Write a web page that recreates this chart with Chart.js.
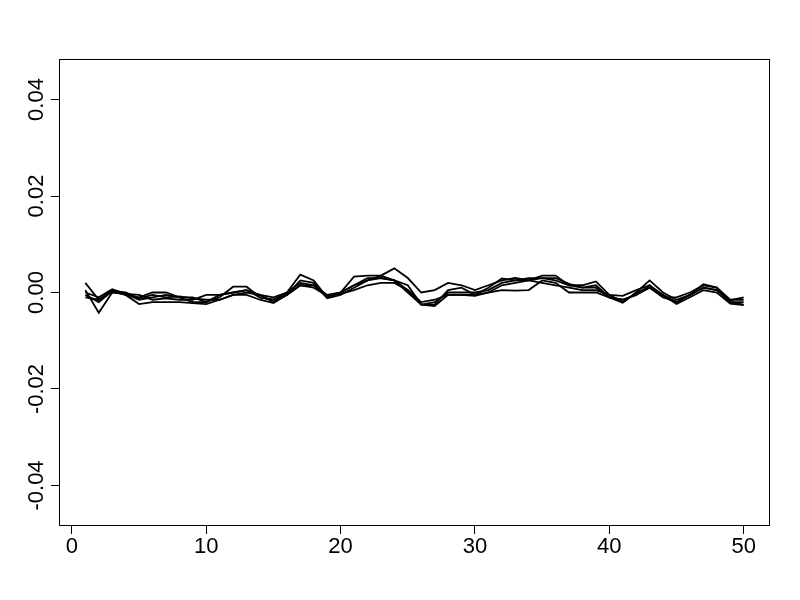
<!DOCTYPE html>
<html>
<head>
<meta charset="utf-8">
<script src="https://cdn.jsdelivr.net/npm/chart.js@4"></script>
<style>
  html, body { margin: 0; padding: 0; background: #fff; }
</style>
</head>
<body>
<canvas id="myChart" width="800" height="600"></canvas>
<script>
// Índices del eje x y cinco series
const xValues = [1, 2, 3, 4, 5, 6, 7, 8, 9, 10, 11, 12, 13, 14, 15, 16, 17, 18, 19, 20,
  21, 22, 23, 24, 25, 26, 27, 28, 29, 30, 31, 32, 33, 34, 35, 36, 37, 38, 39, 40,
  41, 42, 43, 44, 45, 46, 47, 48, 49, 50];

const serie1 = [0.0020, -0.0015, 0.0005, -0.0005, -0.0010, 0.0000, 0.0000, -0.0010, -0.0010, -0.0020,
  -0.0010, 0.0012, 0.0012, -0.0010, -0.0015, 0.0000, 0.0037, 0.0025, -0.0010, 0.0000,
  0.0033, 0.0035, 0.0035, 0.0050, 0.0030, 0.0000, 0.0005, 0.0020, 0.0015, 0.0005,
  0.0015, 0.0025, 0.0030, 0.0025, 0.0035, 0.0035, 0.0015, 0.0015, 0.0023, -0.0005,
  -0.0020, 0.0000, 0.0025, 0.0000, -0.0015, -0.0005, 0.0017, 0.0010, -0.0015, -0.0015];
const serie2 = [0.0005, -0.0042, 0.0000, -0.0003, -0.0015, -0.0010, -0.0005, -0.0010, -0.0020, -0.0020,
  -0.0005, 0.0000, 0.0005, -0.0005, -0.0010, 0.0000, 0.0020, 0.0015, -0.0005, 0.0000,
  0.0015, 0.0025, 0.0035, 0.0025, 0.0015, -0.0025, -0.0025, 0.0005, 0.0010, -0.0005,
  0.0010, 0.0029, 0.0025, 0.0030, 0.0030, 0.0025, 0.0015, 0.0010, 0.0010, -0.0010,
  -0.0015, -0.0005, 0.0015, -0.0005, -0.0020, -0.0005, 0.0010, 0.0005, -0.0020, -0.0020];
const serie3 = [-0.0005, -0.0020, 0.0003, 0.0000, -0.0012, -0.0005, -0.0010, -0.0008, -0.0012, -0.0015,
  -0.0015, -0.0005, 0.0000, -0.0005, -0.0020, -0.0005, 0.0015, 0.0010, -0.0007, -0.0003,
  0.0005, 0.0015, 0.0020, 0.0020, 0.0005, -0.0020, -0.0015, -0.0005, -0.0005, -0.0005,
  0.0000, 0.0005, 0.0004, 0.0005, 0.0025, 0.0020, 0.0000, 0.0000, 0.0000, -0.0010,
  -0.0021, 0.0000, 0.0010, -0.0005, -0.0024, -0.0010, 0.0005, 0.0000, -0.0023, -0.0026];
const serie4 = [0.0000, -0.0010, 0.0007, -0.0003, -0.0005, -0.0015, -0.0012, -0.0015, -0.0015, -0.0005,
  -0.0005, 0.0000, 0.0005, -0.0010, -0.0015, -0.0005, 0.0015, 0.0015, -0.0010, 0.0000,
  0.0015, 0.0030, 0.0030, 0.0025, 0.0000, -0.0025, -0.0020, 0.0000, 0.0000, 0.0000,
  0.0005, 0.0020, 0.0025, 0.0025, 0.0020, 0.0015, 0.0010, 0.0005, 0.0005, -0.0005,
  -0.0007, 0.0005, 0.0015, -0.0010, -0.0020, -0.0005, 0.0010, 0.0005, -0.0016, -0.0010];
const serie5 = [-0.0010, -0.0015, 0.0002, -0.0005, -0.0024, -0.0020, -0.0020, -0.0020, -0.0022, -0.0024,
  -0.0015, -0.0005, -0.0005, -0.0015, -0.0022, -0.0005, 0.0025, 0.0020, -0.0012, -0.0005,
  0.0010, 0.0025, 0.0030, 0.0025, 0.0005, -0.0025, -0.0028, -0.0005, -0.0005, -0.0007,
  0.0000, 0.0015, 0.0020, 0.0025, 0.0030, 0.0030, 0.0018, 0.0010, 0.0015, -0.0010,
  -0.0015, -0.0005, 0.0010, -0.0010, -0.0010, 0.0000, 0.0015, 0.0010, -0.0020, -0.0025];

const series = [serie1, serie2, serie3, serie4, serie5];

const xTicks = [0, 10, 20, 30, 40, 50];
const yTicks = [-0.04, -0.02, 0, 0.02, 0.04];
const yTickLabels = ["-0.04", "-0.02", "0.00", "0.02", "0.04"];

const fuente = "'Liberation Sans', Arial, sans-serif";

// Caja completa del gráfico y etiquetas del eje y giradas (estilo R)
const cajaR = {
  id: "cajaR",
  afterDraw(chart) {
    const { ctx, chartArea: a, scales } = chart;
    ctx.save();
    ctx.strokeStyle = "#000";
    ctx.lineWidth = 1;
    ctx.strokeRect(a.left + 0.5, a.top + 0.5, a.right - a.left - 1, a.bottom - a.top - 1);
    ctx.fillStyle = "#000";
    ctx.font = "22px " + fuente;
    ctx.textAlign = "center";
    ctx.textBaseline = "alphabetic";
    yTicks.forEach((v, i) => {
      const py = scales.y.getPixelForValue(v);
      ctx.save();
      ctx.translate(43, py);
      ctx.rotate(-Math.PI / 2);
      ctx.fillText(yTickLabels[i], 0, 0);
      ctx.restore();
    });
    ctx.restore();
  }
};

const ctx = document.getElementById("myChart").getContext("2d");
new Chart(ctx, {
  type: "line",
  data: {
    datasets: series.map((s, k) => ({
      label: "serie " + (k + 1),
      data: xValues.map((x, i) => ({ x: x, y: s[i] })),
      borderColor: "#000",
      borderWidth: 1.8,
      pointRadius: 0,
      fill: false,
      tension: 0
    }))
  },
  options: {
    responsive: false,
    animation: false,
    devicePixelRatio: 1,
    layout: { padding: { top: 59, right: 30, left: 0, bottom: 0 } },
    plugins: {
      legend: { display: false },
      tooltip: { enabled: false }
    },
    scales: {
      x: {
        type: "linear",
        min: -0.96,
        max: 51.96,
        afterBuildTicks: scale => { scale.ticks = xTicks.map(v => ({ value: v })); },
        afterFit: scale => { scale.height = 74; },
        grid: { drawOnChartArea: false, drawTicks: true, tickLength: 8, color: "#000", lineWidth: 1 },
        border: { display: false },
        ticks: {
          color: "#000",
          font: { family: fuente, size: 22 },
          padding: 0,
          maxRotation: 0,
          autoSkip: false
        }
      },
      y: {
        type: "linear",
        min: -0.0484,
        max: 0.0484,
        afterBuildTicks: scale => { scale.ticks = yTicks.map(v => ({ value: v })); },
        afterFit: scale => { scale.width = 59; },
        grid: { drawOnChartArea: false, drawTicks: true, tickLength: 8, color: "#000", lineWidth: 1 },
        border: { display: false },
        ticks: { display: false }
      }
    }
  },
  plugins: [cajaR]
});
</script>
</body>
</html>
